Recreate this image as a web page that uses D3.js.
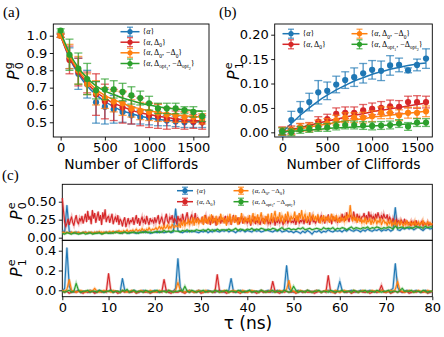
<!DOCTYPE html>
<html>
<head>
<meta charset="utf-8">
<script src="https://cdn.jsdelivr.net/npm/d3@7"></script>
<style>
  body { margin: 0; background: #fff; }
  svg { display: block; }
  .tick text { font-family: "DejaVu Sans", sans-serif; fill: #000; }
</style>
</head>
<body>
<script>
// ---- data: panels (a) and (b), randomized benchmarking ----
const cliffords = [0,100,200,300,400,500,600,700,800,900,1000,1100,1200,1300,1400,1500,1600];

// (a) P0^g
const aBlue      = [1.00,0.87,0.78,0.72,0.615,0.59,0.575,0.56,0.54,0.53,0.525,0.52,0.51,0.505,0.50,0.50,0.50];
const aBlueErr   = [0.01,0.06,0.09,0.08,0.12,0.10,0.08,0.06,0.05,0.04,0.04,0.04,0.03,0.03,0.03,0.03,0.03];
const aBlueFit   = [1.0,0.87,0.78,0.71,0.66,0.62,0.59,0.565,0.55,0.535,0.525,0.518,0.512,0.508,0.505,0.503,0.502];
const aRed       = [1.00,0.86,0.79,0.73,0.66,0.62,0.60,0.585,0.57,0.56,0.54,0.535,0.52,0.515,0.51,0.505,0.50];
const aRedErr    = [0.01,0.08,0.08,0.06,0.12,0.10,0.09,0.09,0.08,0.08,0.07,0.07,0.06,0.05,0.05,0.04,0.04];
const aRedFit    = [1.0,0.875,0.79,0.725,0.675,0.64,0.61,0.59,0.57,0.555,0.545,0.535,0.527,0.52,0.515,0.51,0.507];
const aOrange    = [1.00,0.88,0.80,0.72,0.67,0.64,0.62,0.61,0.58,0.565,0.56,0.555,0.545,0.54,0.53,0.53,0.52];
const aOrangeErr = [0.01,0.07,0.08,0.06,0.07,0.06,0.06,0.07,0.05,0.05,0.05,0.05,0.04,0.04,0.03,0.03,0.03];
const aOrangeFit = [1.0,0.885,0.80,0.74,0.69,0.655,0.63,0.61,0.59,0.578,0.566,0.557,0.55,0.543,0.538,0.534,0.53];
const aGreen     = [1.03,0.89,0.81,0.75,0.685,0.69,0.69,0.675,0.655,0.64,0.61,0.58,0.58,0.58,0.57,0.56,0.535];
const aGreenErr  = [0.01,0.09,0.09,0.09,0.05,0.06,0.05,0.05,0.05,0.04,0.04,0.03,0.03,0.03,0.02,0.03,0.03];
const aGreenFit  = [1.02,0.90,0.815,0.755,0.71,0.68,0.66,0.64,0.625,0.61,0.60,0.59,0.583,0.577,0.572,0.567,0.563];

// (b) P1^e
const bBlue      = [-0.002,0.025,0.045,0.062,0.082,0.085,0.098,0.107,0.113,0.121,0.128,0.126,0.137,0.138,0.127,0.138,0.151];
const bBlueErr   = [0.005,0.018,0.018,0.018,0.024,0.018,0.017,0.017,0.019,0.02,0.019,0.02,0.02,0.014,0.005,0.012,0.02];
const bBlueFit   = [0.0,0.018,0.035,0.05,0.064,0.076,0.087,0.096,0.105,0.112,0.119,0.124,0.129,0.133,0.137,0.140,0.142];
const bRed       = [0.003,0.005,0.01,0.012,0.022,0.027,0.038,0.04,0.04,0.045,0.048,0.05,0.053,0.052,0.062,0.062,0.062];
const bRedErr    = [0.008,0.008,0.008,0.008,0.01,0.01,0.012,0.012,0.012,0.012,0.012,0.013,0.013,0.013,0.012,0.013,0.012];
const bRedFit    = [0.0,0.005,0.01,0.014,0.019,0.023,0.027,0.031,0.035,0.038,0.042,0.045,0.048,0.051,0.054,0.057,0.06];
const bOrange    = [0.002,0.003,0.01,0.01,0.015,0.018,0.025,0.03,0.03,0.03,0.033,0.04,0.04,0.035,0.04,0.04,0.043];
const bOrangeErr = [0.008,0.008,0.008,0.009,0.01,0.01,0.01,0.01,0.01,0.011,0.011,0.012,0.012,0.011,0.011,0.011,0.011];
const bOrangeFit = [0.0,0.004,0.007,0.011,0.014,0.017,0.02,0.023,0.026,0.028,0.031,0.033,0.035,0.037,0.039,0.041,0.043];
const bGreen     = [0.002,0.0,0.005,0.007,0.01,0.01,0.013,0.015,0.015,0.014,0.013,0.014,0.015,0.018,0.012,0.02,0.02];
const bGreenErr  = [0.007,0.007,0.007,0.007,0.008,0.008,0.008,0.008,0.008,0.008,0.008,0.008,0.008,0.008,0.008,0.008,0.008];
const bGreenFit  = [0.0,0.002,0.003,0.005,0.006,0.008,0.009,0.01,0.011,0.012,0.013,0.014,0.015,0.016,0.017,0.018,0.019];

// ---- data: panel (c), time traces in hundredths ----
// red and orange (top) sampled every 0.25 ns, the rest every 0.5 ns
const fineStep = 0.25, coarseStep = 0.5;
const cTopBlue = [10,8,45,9,7,6,8,7,6,7, 8,6,7,7,6,8,7,6,7,8, 7,6,8,7,9,7,6,8,7,6, 8,7,6,8,7,9,7,8,6,7,
  8,7,9,8,7,8,9,7,8,40, 10,8,7,9,8,10,8,9,8,7, 9,8,10,7,9,8,11,9,8,10, 9,11,8,10,9,7,10,9,11,8,
  10,9,8,11,9,10,8,9,11,10, 9,8,10,9,11,8,9,10,8,9, 7,9,8,6,9,7,10,8,5,9, 8,10,7,9,8,11,9,8,10,9,
  10,8,11,9,12,10,9,11,10,8, 11,9,12,10,9,11,10,12,9,11, 10,12,9,11,42,11,10,13,12,14, 12,14,11,13,15,12,10,13,14,12, 13];
const cTopRed = [55,38,22,15,20,26,18,24,29,21,17,25,31,22,19,27,23,30,20,26,
  33,22,37,25,30,19,38,27,34,21,29,36,24,31,18,35,26,39,22,28,
  30,21,27,33,19,25,29,22,31,18,26,23,16,24,28,15,21,27,19,24,
  22,28,18,25,31,20,27,17,24,29,21,26,19,30,23,18,27,22,25,20,
  28,21,26,31,19,24,29,22,17,27,33,23,20,29,25,31,21,27,24,19,
  30,23,27,19,33,25,21,29,35,24,20,28,32,22,26,34,21,28,25,23,
  22,29,19,27,31,20,25,28,18,24,30,21,27,17,26,23,29,20,25,22,
  24,30,19,27,22,29,18,25,31,21,26,23,28,19,24,30,20,27,22,25,
  20,27,23,17,26,22,29,19,25,21,28,18,24,27,20,26,22,29,19,23,
  19,26,22,28,17,24,21,27,20,25,23,18,26,22,29,20,24,27,21,23,
  21,27,18,25,29,20,24,22,28,19,26,23,21,27,18,25,30,22,24,20,
  24,29,21,27,31,23,26,20,29,24,32,22,27,19,30,25,23,28,21,26,
  28,23,33,26,30,24,35,27,22,31,29,25,36,28,24,33,27,30,23,29,
  29,34,25,31,23,36,28,32,26,30,24,33,27,35,29,25,31,26,33,28,
  27,32,22,29,25,20,27,23,19,26,21,24,18,25,22,20,26,19,23,21,
  20,17,23,19,22,16,24,18,21,17,20,23,16,21,19,18,22,17,20,18, 19];
const cTopOrange = [7,8,7,6,8,7,7,6,8,7,7,8,6,7,8,7,6,7,8,7,
  8,7,6,8,7,8,7,6,8,7,8,7,9,7,8,6,8,7,8,7,
  8,9,7,8,9,8,7,9,8,10,8,9,7,10,8,9,11,8,9,10,
  9,11,8,10,12,9,10,11,9,13,10,11,9,12,10,14,11,10,12,11,
  12,14,11,13,16,12,15,11,17,13,14,18,12,16,13,19,15,14,17,16,
  15,20,14,22,17,24,16,21,19,26,18,23,20,28,17,25,21,27,19,24,
  22,28,18,31,21,26,19,29,24,32,20,27,23,30,18,26,22,33,25,28,
  20,27,17,30,23,33,19,26,29,21,31,24,18,28,22,34,25,20,29,23,
  27,22,31,19,26,34,21,29,24,32,20,28,35,23,27,19,30,25,33,22,
  25,34,21,30,37,23,29,26,35,22,31,27,20,33,24,36,28,22,30,26,
  28,36,24,31,22,34,27,38,25,29,33,21,30,26,35,23,28,32,24,30,
  23,32,26,20,29,24,31,22,28,25,30,21,27,33,23,29,25,31,22,27,
  21,29,24,27,22,30,25,32,28,45,30,23,29,24,28,21,27,23,26,20,
  25,21,28,19,24,22,27,18,25,20,23,26,19,24,21,27,18,22,25,20,
  22,17,23,19,25,16,21,18,24,15,20,22,17,23,19,16,21,18,24,17,
  19,22,17,21,18,23,16,20,22,17,21,19,24,18,20,17,22,19,21,18, 20];
const cTopGreen = [6,5,7,6,5,7,6,5,6,7, 5,6,7,5,6,6,7,5,6,7, 6,7,6,8,7,6,7,8,6,7, 7,8,7,6,8,7,9,7,8,7,
  8,9,7,8,10,8,9,8,10,9, 9,8,10,9,11,8,10,9,11,10, 10,11,9,12,10,11,9,12,10,11, 11,10,12,10,11,13,10,12,11,10,
  12,11,13,10,12,11,13,12,10,12, 11,13,12,10,12,14,11,12,13,11, 12,11,13,12,14,11,12,13,11,12,
  13,12,11,14,12,13,12,14,11,13, 12,14,13,11,13,15,12,14,13,12, 14,13,15,12,14,13,15,14,12,14,
  13,15,14,12,16,13,14,15,13,14, 15,13,14,16,14,15,13,16,14,15, 15];

const cBotBlue = [-1,2,43,4,-1,-2,-1,0,-2,-1, -1,-2,0,-1,-2,-1,0,-1,-2,-1, -1,0,-2,-1,-1,-2,12,0,-1,-2,
  -1,0,-1,-2,-1,0,-1,-2,-1,-1, 0,-1,-2,-1,-1,0,-2,-1,-1,2, 32,3,-1,-2,-1,0,-1,-2,-1,0,
  -1,-2,-1,0,-1,-1,-2,-1,0,-1, -2,-1,0,12,-1,-2,-1,0,-1,-2, -1,0,-1,-2,-1,-1,0,-2,-1,0,
  -1,-2,-1,0,-1,-2,1,25,2,-1, -2,-1,0,-1,-2,-1,0,-1,-2,-1, 0,-1,-2,-1,-1,0,-2,-1,-1,0,
  9,0,-1,-2,-1,0,-1,-2,-1,0, -1,-2,-1,0,-1,-1,-2,-1,0,-1, -2,-1,0,2,27,3,-1,-2,-1,0,
  -1,-2,-1,0,-1,-2,-1,0,-1,-2, -1];
const cBotRed = [-1,-2,-1,-3,-2,-1,-2,-1,-2,-3, -1,-2,-2,-1,-3,-2,-1,-2,-1,-2, 17,-1,-2,-1,-3,-2,-1,-2,-1,-2,
  -2,-1,-3,-2,-1,-2,-2,-1,-3,-2, -1,-2,-1,-2,11,-1,-2,-3,-1,-2, -2,-1,-2,-3,-1,-2,-1,-2,-2,-1,
  -3,-2,-1,-2,-1,-2,-2,16,-1,-2, -1,-3,-2,-1,-2,-1,-2,-3,-1,-2, -2,-1,-2,-1,-3,-2,-1,-2,-1,-2,
  -2,9,-1,-2,-3,-1,-2,-1,-2,-2, -1,-3,-2,-1,-2,-1,-2,-2,-1,-3, -2,-1,-2,-1,-2,15,-1,-2,-3,-1,
  -2,-1,-2,-2,-1,-3,-2,-1,-2,-1, -2,-2,-1,-3,-2,-1,-2,-1,5,-2, -2,-1,-3,-2,-1,-2,-1,-2,-2,-1,
  -3,-2,-1,-2,-1,-2,-2,-1,-3,-2, -1];
const cBotOrange = [0,-1,1,11,0,-1,-2,-1,0,-1, -2,-1,0,-1,2,-1,-2,-1,0,-1, -1,-2,0,-1,-1,-2,0,-1,-2,-1,
  0,-1,-2,-1,0,-1,-1,-2,0,-1, -2,-1,0,-1,-1,-2,0,-1,-2,0, 8,0,-1,-2,-1,0,-1,-2,-1,0,
  -1,-2,0,-1,-1,-2,0,-1,-2,-1, 0,-1,-2,-1,0,-1,-1,-2,0,-1, -2,-1,0,-1,-1,-2,0,-1,-2,-1,
  0,-1,-2,-1,0,-1,-1,1,10,0, -1,-2,-1,0,-1,-2,0,-1,-2,-1, 0,-1,-2,-1,0,-1,-1,-2,0,-1,
  -2,-1,0,-1,-1,-2,0,-1,-2,-1, 0,-1,-2,-1,0,-1,-1,-2,0,-1, -2,-1,0,-1,1,9,0,-1,-2,-1,
  0,-1,-2,-1,0,-1,-1,-2,0,-1, -1];
const cBotGreen = [-1,-2,-1,0,-2,-1,7,0,-2,-1, -1,0,-2,-1,-1,-2,0,-1,-2,-1, -1,0,-2,-1,-1,-2,0,-1,1,-2,
  -1,0,-2,-1,-1,-2,0,-1,-2,-1, -1,0,-2,-1,-1,-2,0,-1,-2,-1, -1,0,-1,4,-1,-2,0,-1,-2,-1,
  -1,0,-2,-1,-1,-2,0,-1,-2,-1, -1,0,-2,-1,-1,-2,0,-1,-2,-1, -1,0,-2,-1,-1,-2,0,-1,-2,-1,
  -1,0,-2,-1,-1,-2,0,-1,-2,-1, 4,0,-2,-1,-1,-2,0,-1,-2,-1, -1,0,-2,-1,-1,-2,0,-1,-2,-1,
  -1,0,-2,-1,-1,-2,0,-1,-2,-1, -1,0,-2,-1,-1,-2,0,-1,-2,-1, -1,0,-2,-1,-1,-2,0,2,-1,-1,
  -1,0,-2,-1,-1,-2,0,-1,-2,-1, -1];

// legend names, split into (text, style) pieces
const seriesNames = [
  [["{"],["α","i"],["}"]],
  [["{"],["α","i"],[", Δ"],["0","sub"],["}"]],
  [["{"],["α","i"],[", Δ"],["0","sub"],[", −Δ"],["0","sub"],["}"]],
  [["{"],["α","i"],[", Δ"],["opt","sub"],["1","sub2"],[", −Δ"],["opt","sub"],["2","sub2"],["}"]]
];
const colors = ["#1f77b4", "#d62728", "#ff7f0e", "#2ca02c"];

const svg = d3.select("body").append("svg").attr("width", 444).attr("height", 337);

// ---- helpers ----
function frame(g, x, y) {
  g.append("rect")
    .attr("x", x.range()[0]).attr("y", y.range()[1])
    .attr("width", x.range()[1] - x.range()[0])
    .attr("height", y.range()[0] - y.range()[1])
    .attr("fill", "none").attr("stroke", "#000").attr("stroke-width", 0.9);
}

function axes(g, x, y, xticks, yticks, yfmt, showX) {
  const ax = g.append("g").attr("transform", `translate(0,${y.range()[0]})`)
    .call(d3.axisBottom(x).tickValues(xticks).tickFormat(d3.format("d"))
      .tickSize(3.5).tickSizeOuter(0).tickPadding(2.5));
  if (!showX) ax.selectAll("text").remove();
  const ay = g.append("g").attr("transform", `translate(${x.range()[0]},0)`)
    .call(d3.axisLeft(y).tickValues(yticks).tickFormat(d3.format(yfmt)).tickSize(3.5).tickSizeOuter(0).tickPadding(2.5));
  [ax, ay].forEach(a => {
    a.select(".domain").remove();
    a.selectAll(".tick line").attr("stroke", "#000").attr("stroke-width", 0.9);
    a.selectAll(".tick text").attr("font-size", 13);
  });
}

function ylab(x, y, sup, sub, size) {
  const t = svg.append("text")
    .attr("transform", `translate(${x},${y}) rotate(-90)`)
    .attr("font-family", "DejaVu Sans, sans-serif").attr("font-size", size);
  t.append("tspan").attr("font-style", "italic").text("P");
  t.append("tspan").attr("x", size * 0.68).attr("dy", -size * 0.42).attr("font-size", size * 0.7).text(sup);
  t.append("tspan").attr("x", size * 0.68).attr("dy", size * 0.68).attr("font-size", size * 0.7).text(sub);
}

function nameText(sel, pieces, size) {
  let cur = 0;
  pieces.forEach(([txt, st]) => {
    const off = st === "sub" ? size * 0.28 : st === "sub2" ? size * 0.5 : 0;
    const ts = sel.append("tspan").attr("dy", off - cur).text(txt);
    if (st === "i") ts.attr("font-style", "italic");
    if (st === "sub") ts.attr("font-size", size * 0.68);
    if (st === "sub2") ts.attr("font-size", size * 0.5);
    cur = off;
  });
}

function legendItem(cx, cy, i, hw, size, bar) {
  const g = svg.append("g");
  g.append("line").attr("x1", cx - hw).attr("x2", cx + hw).attr("y1", cy).attr("y2", cy)
    .attr("stroke", colors[i]).attr("stroke-width", 1.5);
  g.append("line").attr("x1", cx).attr("x2", cx).attr("y1", cy - bar).attr("y2", cy + bar)
    .attr("stroke", colors[i]).attr("stroke-width", 1.3).attr("stroke-opacity", 0.8);
  [cy - bar, cy + bar].forEach(yy => g.append("line")
    .attr("x1", cx - 3).attr("x2", cx + 3).attr("y1", yy).attr("y2", yy)
    .attr("stroke", colors[i]).attr("stroke-width", 1.2).attr("stroke-opacity", 0.8));
  g.append("circle").attr("cx", cx).attr("cy", cy).attr("r", 2.6).attr("fill", colors[i]);
  const t = g.append("text").attr("x", cx + hw + 3).attr("y", cy + size * 0.33)
    .attr("font-family", "Liberation Serif, serif").attr("font-size", size);
  nameText(t, seriesNames[i], size);
}

function rbPanel(x, y, series) {
  const g = svg.append("g");
  const fitLine = d3.line().x((d, i) => x(cliffords[i])).y(d => y(d)).curve(d3.curveMonotoneX);
  series.forEach(([vals, errs, fit], k) => {
    const c = colors[k];
    const sg = g.append("g");
    sg.selectAll("line.bar").data(vals).join("line").attr("class", "bar")
      .attr("x1", (d, i) => x(cliffords[i])).attr("x2", (d, i) => x(cliffords[i]))
      .attr("y1", (d, i) => y(d - errs[i])).attr("y2", (d, i) => y(d + errs[i]))
      .attr("stroke", c).attr("stroke-width", 1.4).attr("stroke-opacity", 0.75);
    [-1, 1].forEach(s => sg.selectAll("line.cap" + s).data(vals).join("line").attr("class", "cap" + s)
      .attr("x1", (d, i) => x(cliffords[i]) - 4).attr("x2", (d, i) => x(cliffords[i]) + 4)
      .attr("y1", (d, i) => y(d + s * errs[i])).attr("y2", (d, i) => y(d + s * errs[i]))
      .attr("stroke", c).attr("stroke-width", 1.3).attr("stroke-opacity", 0.7));
    sg.append("path").datum(fit).attr("d", fitLine)
      .attr("fill", "none").attr("stroke", c).attr("stroke-width", 1.5);
    sg.selectAll("circle").data(vals).join("circle")
      .attr("cx", (d, i) => x(cliffords[i])).attr("cy", d => y(d)).attr("r", 3.1).attr("fill", c);
  });
  return g;
}

// ---- panel (a) ----
const xA = d3.scaleLinear().domain([-83, 1677]).range([53.3, 209]);
const yA = d3.scaleLinear().domain([0.415, 1.0675]).range([137, 24]);
const gA = svg.append("g");
axes(gA, xA, yA, [0, 500, 1000, 1500], [0.5, 0.6, 0.7, 0.8, 0.9, 1.0], ".1f", true);
rbPanel(xA, yA, [[aBlue, aBlueErr, aBlueFit], [aRed, aRedErr, aRedFit],
  [aOrange, aOrangeErr, aOrangeFit], [aGreen, aGreenErr, aGreenFit]]);
frame(gA, xA, yA);
[31.7, 42.2, 52.8, 63.5].forEach((cy, i) => legendItem(130, cy, i, 9.5, 8, 4.5));

// ---- panel (b) ----
const xB = d3.scaleLinear().domain([-85, 1670]).range([274.7, 432.3]);
const yB = d3.scaleLinear().domain([-0.0096, 0.2219]).range([137, 24]);
const gB = svg.append("g");
axes(gB, xB, yB, [0, 500, 1000, 1500], [0, 0.05, 0.1, 0.15, 0.2], ".2f", true);
rbPanel(xB, yB, [[bBlue, bBlueErr, bBlueFit], [bRed, bRedErr, bRedFit],
  [bOrange, bOrangeErr, bOrangeFit], [bGreen, bGreenErr, bGreenFit]]);
frame(gB, xB, yB);
legendItem(291, 33.7, 0, 8.5, 8, 4.5);
legendItem(291, 44.3, 1, 8.5, 8, 4.5);
legendItem(359.5, 33.7, 2, 8, 8, 4.5);
legendItem(359.5, 44.3, 3, 8, 8, 4.5);

// ---- panel (c) ----
const xC = d3.scaleLinear().domain([0, 80]).range([62.3, 432.3]);
const yCt = d3.scaleLinear().domain([-0.0361, 0.7417]).range([240.3, 184.3]);
const yCb = d3.scaleLinear().domain([-0.0646, 0.505]).range([296.7, 240.3]);
const tauTicks = [0, 10, 20, 30, 40, 50, 60, 70, 80];

function traces(y, list) {
  const g = svg.append("g");
  list.forEach(([arr, step], k) => {
    const ln = d3.line().x((d, i) => xC(i * step)).y(d => y(d / 100));
    g.append("path").datum(arr).attr("d", ln).attr("fill", "none")
      .attr("stroke", colors[k]).attr("stroke-width", 2.6).attr("stroke-opacity", 0.3);
    g.append("path").datum(arr).attr("d", ln).attr("fill", "none")
      .attr("stroke", colors[k]).attr("stroke-width", 1.1).attr("stroke-linejoin", "round");
  });
}

const gCt = svg.append("g");
axes(gCt, xC, yCt, [], [0, 0.25, 0.5], ".2f", false);
traces(yCt, [[cTopBlue, coarseStep], [cTopRed, fineStep], [cTopOrange, fineStep], [cTopGreen, coarseStep]]);
frame(gCt, xC, yCt);

const gCb = svg.append("g");
axes(gCb, xC, yCb, tauTicks, [0, 0.2, 0.4], ".1f", true);
traces(yCb, [[cBotBlue, coarseStep], [cBotRed, coarseStep], [cBotOrange, coarseStep], [cBotGreen, coarseStep]]);
frame(gCb, xC, yCb);

legendItem(185, 190.7, 0, 8, 6.8, 3.5);
legendItem(185, 201.7, 1, 8, 6.8, 3.5);
legendItem(241, 190.7, 2, 7.5, 6.8, 3.5);
legendItem(241, 201.7, 3, 7.5, 6.8, 3.5);

// ---- labels ----
const lab = (x, y, txt, size, fam) => svg.append("text").attr("x", x).attr("y", y)
  .attr("text-anchor", "middle").attr("font-family", fam).attr("font-size", size).text(txt);
lab(131.2, 169, "Number of Cliffords", 13.8, "DejaVu Sans, sans-serif");
lab(353.5, 169, "Number of Cliffords", 13.8, "DejaVu Sans, sans-serif");
lab(248, 329, "τ (ns)", 17, "DejaVu Sans, sans-serif");
ylab(19, 80, "g", "0", 16);
ylab(239, 80, "e", "1", 16);
ylab(22, 220, "e", "0", 16);
ylab(22, 277, "e", "1", 16);
[["(a)", 3, 17], ["(b)", 219, 17], ["(c)", 2, 180]].forEach(([t, x, y]) =>
  svg.append("text").attr("x", x).attr("y", y).attr("font-family", "Liberation Serif, serif")
    .attr("font-size", 15).text(t));
</script>
</body>
</html>
